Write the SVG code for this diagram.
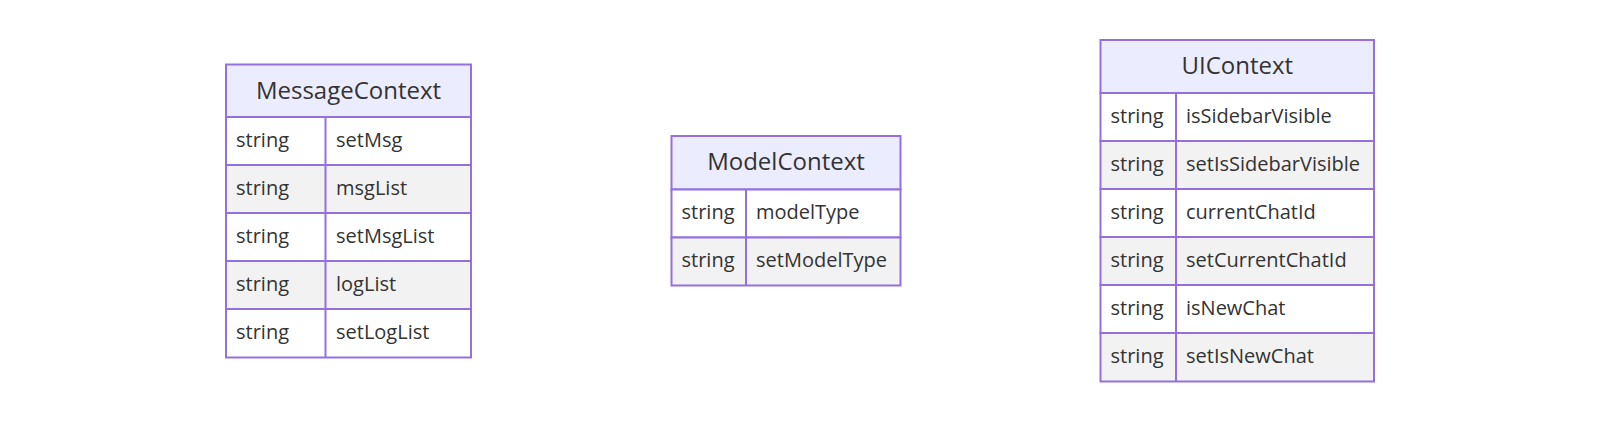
<svg xmlns="http://www.w3.org/2000/svg" width="1600" height="422" viewBox="0 0 1600 422">
<style>
.bg{fill:#ffffff}
.hdr{fill:#ECECFF;stroke:#9370DB;stroke-width:2}
.odd{fill:#ffffff;stroke:#9370DB;stroke-width:2}
.even{fill:#f2f2f2;stroke:#9370DB;stroke-width:2}
.div{stroke:#9370DB;stroke-width:2}
.title{font-family:"Open Sans","Noto Sans",sans-serif;font-size:24px;fill:#333333;text-anchor:middle;dominant-baseline:central}
.attr{font-family:"Open Sans","Noto Sans",sans-serif;font-size:20px;fill:#333333;dominant-baseline:central}
</style>
<rect class="bg" x="0" y="0" width="1600" height="422"/>
<g id="connectors"></g>
<g id="MessageContext">
<rect class="hdr" x="226" y="64.5" width="245" height="52.5"/>
<text class="title" x="348.5" y="89">MessageContext</text>
<rect class="odd" x="226" y="117" width="245" height="48"/>
<rect class="even" x="226" y="165" width="245" height="48"/>
<rect class="odd" x="226" y="213" width="245" height="48"/>
<rect class="even" x="226" y="261" width="245" height="48"/>
<rect class="odd" x="226" y="309" width="245" height="48.5"/>
<line class="div" x1="325.5" y1="117" x2="325.5" y2="357.5"/>
<text class="attr" x="236" y="139">string</text><text class="attr" x="336" y="139">setMsg</text>
<text class="attr" x="236" y="187">string</text><text class="attr" x="336" y="187">msgList</text>
<text class="attr" x="236" y="235">string</text><text class="attr" x="336" y="235">setMsgList</text>
<text class="attr" x="236" y="283">string</text><text class="attr" x="336" y="283">logList</text>
<text class="attr" x="236" y="331">string</text><text class="attr" x="336" y="331">setLogList</text>
</g>
<g id="ModelContext">
<rect class="hdr" x="671.5" y="136" width="229" height="53.5"/>
<text class="title" x="786" y="160.5">ModelContext</text>
<rect class="odd" x="671.5" y="189.5" width="229" height="48"/>
<rect class="even" x="671.5" y="237.5" width="229" height="48"/>
<line class="div" x1="746" y1="189.5" x2="746" y2="285.5"/>
<text class="attr" x="681.5" y="211.5">string</text><text class="attr" x="756" y="211.5">modelType</text>
<text class="attr" x="681.5" y="259.5">string</text><text class="attr" x="756" y="259.5">setModelType</text>
</g>
<g id="UIContext">
<rect class="hdr" x="1100.5" y="40" width="273.5" height="53"/>
<text class="title" x="1237.25" y="64.5">UIContext</text>
<rect class="odd" x="1100.5" y="93" width="273.5" height="48"/>
<rect class="even" x="1100.5" y="141" width="273.5" height="48"/>
<rect class="odd" x="1100.5" y="189" width="273.5" height="48"/>
<rect class="even" x="1100.5" y="237" width="273.5" height="48"/>
<rect class="odd" x="1100.5" y="285" width="273.5" height="48"/>
<rect class="even" x="1100.5" y="333" width="273.5" height="48.5"/>
<line class="div" x1="1176" y1="93" x2="1176" y2="381.5"/>
<text class="attr" x="1110.5" y="115">string</text><text class="attr" x="1186" y="115">isSidebarVisible</text>
<text class="attr" x="1110.5" y="163">string</text><text class="attr" x="1186" y="163">setIsSidebarVisible</text>
<text class="attr" x="1110.5" y="211">string</text><text class="attr" x="1186" y="211">currentChatId</text>
<text class="attr" x="1110.5" y="259">string</text><text class="attr" x="1186" y="259">setCurrentChatId</text>
<text class="attr" x="1110.5" y="307">string</text><text class="attr" x="1186" y="307">isNewChat</text>
<text class="attr" x="1110.5" y="355">string</text><text class="attr" x="1186" y="355">setIsNewChat</text>
</g>
</svg>
